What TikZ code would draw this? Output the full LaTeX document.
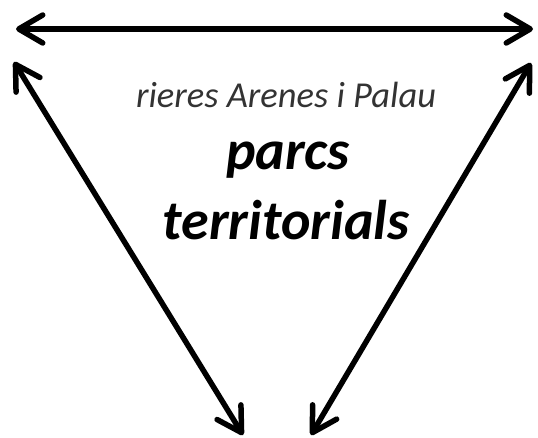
\documentclass[tikz,border=0pt]{standalone}
\usepackage{fontspec}
\setmainfont{Carlito}
\usetikzlibrary{arrows.meta}

\begin{document}
\begin{tikzpicture}[x=1pt, y=-1pt, >={Straight Barb[length=24pt,width=28pt,line cap=round,line join=round]}]
    \useasboundingbox (0,0) rectangle (538,438);

    \coordinate (T1) at (16,29);
    \coordinate (T2) at (533,29);
    \coordinate (L1) at (14,62);
    \coordinate (L2) at (243,435);
    \coordinate (R1) at (531,63);
    \coordinate (R2) at (311,435);

    \draw [<->, line width=5.5pt, line cap=round] (T1) -- (T2);
    \draw [<->, line width=5.5pt, line cap=round] (L1) -- (L2);
    \draw [<->, line width=5.5pt, line cap=round] (R1) -- (R2);

    \node (rieres) at (286,108) [anchor=base, text=black!80, font=\fontsize{36.5}{40}\selectfont\itshape] {rieres Arenes i Palau};
    \node (parcs) at (288,170) [anchor=base, font=\fontsize{56}{60}\selectfont\bfseries\itshape] {parcs};
    \node (terr) at (286,240) [anchor=base, font=\fontsize{56}{60}\selectfont\bfseries\itshape] {territorials};

  \end{tikzpicture}
\end{document}
